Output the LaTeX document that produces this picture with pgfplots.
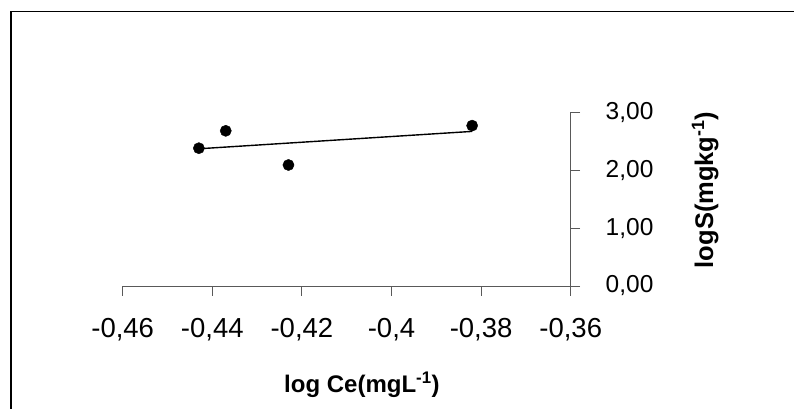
\documentclass[border=0pt]{standalone}
\usepackage{pgfplots}
\pgfplotsset{compat=1.18}
\usepackage{fontspec}
\setmainfont{Liberation Sans}

\begin{document}
\begin{tikzpicture}
\useasboundingbox (0pt,0pt) rectangle (794pt,409pt);
% outer frame (only top and left edges are visible)
\draw[line width=1.6pt] (11pt,-2pt) -- (11pt,397.3pt) -- (796pt,397.3pt);
\begin{axis}[
    at={(122.7pt,123pt)}, anchor=south west,
    scale only axis,
    width=448pt, height=173.7pt,
    xmin=-0.46, xmax=-0.36,
    ymin=0, ymax=3,
    clip=false,
    axis x line=bottom,
    axis y line=right,
    axis line style={-, line width=0.9pt, black!65},
    tick style={line width=0.9pt, black!65},
    tick align=outside,
    major tick length=9.5pt,
    xtick={-0.46,-0.44,-0.42,-0.4,-0.38,-0.36},
    ytick={0,1,2,3},
    /pgf/number format/assume math mode=true,
    /pgf/number format/use comma,
    xticklabel style={font=\fontsize{27.5}{30}\selectfont, yshift=-19pt,
      /pgf/number format/fixed, /pgf/number format/precision=2},
    yticklabel style={font=\fontsize{24.5}{27}\selectfont, xshift=22pt,
      /pgf/number format/fixed, /pgf/number format/fixed zerofill,
      /pgf/number format/precision=2},
    every axis x label/.style={at={(axis description cs:0.534,-0.616)},
      anchor=base, font=\bfseries\fontsize{24}{26}\selectfont},
    every axis y label/.style={at={(axis description cs:1.30,0.553)},
      anchor=center, rotate=90, font=\bfseries\fontsize{25.5}{28}\selectfont},
    xlabel={log Ce(mgL\textsuperscript{-1})},
    ylabel={logS(mgkg\textsuperscript{-1})},
]
% measured points
\addplot[only marks, mark=*, mark size=5.6pt, black] coordinates {
  (-0.443,2.38)
  (-0.437,2.68)
  (-0.423,2.09)
  (-0.382,2.77)
};
% linear trend line
\addplot[black, line width=1.4pt] coordinates {
  (-0.443,2.37)
  (-0.382,2.67)
};
\end{axis}
\end{tikzpicture}
\end{document}
